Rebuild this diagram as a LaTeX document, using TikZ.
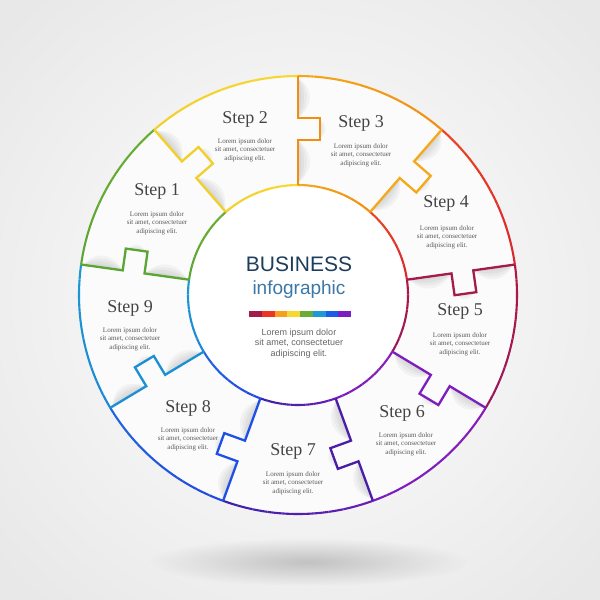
\documentclass[tikz,border=0pt]{standalone}
\usepackage{fontspec}
\setmainfont{Liberation Serif}
\newfontfamily\arialf{Liberation Sans}
\usetikzlibrary{fadings}
\definecolor{cgreen}{HTML}{5BA534}
\definecolor{cgreenb}{HTML}{68AE30}
\definecolor{cyel}{HTML}{F2CF2A}
\definecolor{cyelb}{HTML}{F7D830}
\definecolor{corA}{HTML}{F4A81A}
\definecolor{corB}{HTML}{F08E12}
\definecolor{credA}{HTML}{EC4420}
\definecolor{credB}{HTML}{D8262E}
\definecolor{ccrA}{HTML}{B4183E}
\definecolor{ccrB}{HTML}{96185E}
\definecolor{cpuA}{HTML}{8A1CB8}
\definecolor{cpuB}{HTML}{7A1CC0}
\definecolor{cinA}{HTML}{6A1DB8}
\definecolor{cinB}{HTML}{3A22A8}
\definecolor{cblA}{HTML}{2248E2}
\definecolor{cblB}{HTML}{1E66E0}
\definecolor{ccyA}{HTML}{1A86D8}
\definecolor{ccyB}{HTML}{1E9AD0}
\definecolor{dcrim}{HTML}{A51A4C}
\definecolor{dpur}{HTML}{7E1DBE}
\definecolor{dind}{HTML}{4A1DA8}
\definecolor{dblue}{HTML}{1E50E8}
\definecolor{dcyan}{HTML}{1A90D4}
\definecolor{navy}{HTML}{1D3D5C}
\definecolor{infob}{HTML}{3B78A8}
\definecolor{lgray}{HTML}{5A5A5A}
\definecolor{sgray}{HTML}{444444}
\definecolor{b1}{HTML}{A31A4D}
\definecolor{b2}{HTML}{EE3424}
\definecolor{b3}{HTML}{F5A020}
\definecolor{b4}{HTML}{F6D930}
\definecolor{b5}{HTML}{6AAC38}
\definecolor{b6}{HTML}{1E98D6}
\definecolor{b7}{HTML}{1C5CEB}
\definecolor{b8}{HTML}{7A20C0}
\definecolor{disk}{HTML}{FBFBFB}
\tikzfading[name=softfade, inner color=transparent!0, outer color=transparent!100]
\tikzset{
  steplbl/.style={font=\fontsize{18}{20}\selectfont, text=sgray, inner sep=0pt, anchor=base},
  lorem/.style={font=\fontsize{7}{8.5}\selectfont, text=lgray, align=center, inner sep=0pt, anchor=north},
  ring/.style={line width=2.1pt},
  divider/.style={line width=2.3pt, line join=miter},
}
\begin{document}
\begin{tikzpicture}[x=1pt,y=-1pt]
\useasboundingbox (0,0) rectangle (600,600);
\shade[inner color=white, outer color=black!9] (-100,-100) rectangle (700,700);
\fill[black!24, path fading=softfade] (308,562) ellipse (160 and 24);
\begin{scope}[shift={(298,295)}, y=1pt]
  \fill[disk] (0,0) circle (219);
  % shadows
  \foreach \a in {131,90,49,8,-31,-70,-110,-149,172}{
    \begin{scope}[rotate=\a]
      \foreach \w in {4,8,12,16}{
        \fill[black, opacity=0.035] (112,0) .. controls (124,-\w) and (142,-\w) .. (155,0) -- cycle;
        \fill[black, opacity=0.035] (177,0) .. controls (190,-\w) and (206,-\w) .. (217,0) -- cycle;
        \fill[black, opacity=0.025] (157,-22) .. controls (162,-22-\w*0.5) and (170,-22-\w*0.5) .. (175,-22) -- cycle;
      }
    \end{scope}
  }
  \fill[white] (0,0) circle (110);
  % arcs
  \foreach \A/\B/\ca/\cb in {172/131/cgreen/cgreenb, 131/90/cyel/cyelb, 90/49/corA/corB, 49/8/credA/credB, 8/-31/ccrA/ccrB, -31/-70/cpuA/cpuB, -70/-110/cinA/cinB, -110/-149/cblA/cblB, -149/-188/ccyA/ccyB}{
    \foreach \k in {1,...,10}{
      \pgfmathsetmacro\sa{\A+(\B-\A)*(\k-1)/10}
      \pgfmathsetmacro\ea{\A+(\B-\A)*\k/10}
      \pgfmathtruncatemacro\pc{100*(\k-0.5)/10}
      \draw[ring, draw=\cb!\pc!\ca] (\sa:219) arc[start angle=\sa, end angle=\ea, radius=219];
      \draw[ring, draw=\cb!\pc!\ca] (\sa:110) arc[start angle=\sa, end angle=\ea, radius=110];
    }
  }
  % dividers
  \foreach \a/\c in {131/cyel, 90/corB, 49/corA, 8/dcrim, -31/dpur, -70/dind, -110/dblue, -149/dcyan, 172/cgreen}{
    \draw[divider, draw=\c, rotate=\a] (110,0) -- (155,0) -- (155,-22) -- (177,-22) -- (177,0) -- (219,0);
  }
\end{scope}
% center texts
\node[font=\arialf\fontsize{21}{24}\selectfont, text=navy, inner sep=0pt, anchor=base] (biz) at (299,271) {BUSINESS};
\node[font=\arialf\fontsize{19}{22}\selectfont, text=infob, inner sep=0pt, anchor=base] (info) at (299,294) {infographic};
\foreach \i/\c in {0/b1,1/b2,2/b3,3/b4,4/b5,5/b6,6/b7,7/b8}{
  \fill[\c] ({249+12.75*\i},311) rectangle ({249+12.75*(\i+1)},317);
}
\node[font=\arialf\fontsize{9}{10.5}\selectfont, text=black!60, align=center, inner sep=0pt, anchor=north] (clorem) at (299,328.5) {Lorem ipsum dolor\\sit amet, consectetuer\\adipiscing elit.};
% steps
\node[steplbl] (s1) at (157,195) {Step 1};
\node[lorem] (l1) at (157,211.2) {Lorem ipsum dolor\\sit amet, consectetuer\\adipiscing elit.};
\node[steplbl] (s2) at (245,123) {Step 2};
\node[lorem] (l2) at (245,138.2) {Lorem ipsum dolor\\sit amet, consectetuer\\adipiscing elit.};
\node[steplbl] (s3) at (361,127) {Step 3};
\node[lorem] (l3) at (361,143.2) {Lorem ipsum dolor\\sit amet, consectetuer\\adipiscing elit.};
\node[steplbl] (s4) at (446,207) {Step 4};
\node[lorem] (l4) at (447,225.2) {Lorem ipsum dolor\\sit amet, consectetuer\\adipiscing elit.};
\node[steplbl] (s5) at (460,315) {Step 5};
\node[lorem] (l5) at (460,332.2) {Lorem ipsum dolor\\sit amet, consectetuer\\adipiscing elit.};
\node[steplbl] (s6) at (402,417) {Step 6};
\node[lorem] (l6) at (406,432.2) {Lorem ipsum dolor\\sit amet, consectetuer\\adipiscing elit.};
\node[steplbl] (s7) at (293,455) {Step 7};
\node[lorem] (l7) at (293,471.2) {Lorem ipsum dolor\\sit amet, consectetuer\\adipiscing elit.};
\node[steplbl] (s8) at (188,412) {Step 8};
\node[lorem] (l8) at (188,427.2) {Lorem ipsum dolor\\sit amet, consectetuer\\adipiscing elit.};
\node[steplbl] (s9) at (130,312) {Step 9};
\node[lorem] (l9) at (130,327.2) {Lorem ipsum dolor\\sit amet, consectetuer\\adipiscing elit.};
\end{tikzpicture}
\end{document}
